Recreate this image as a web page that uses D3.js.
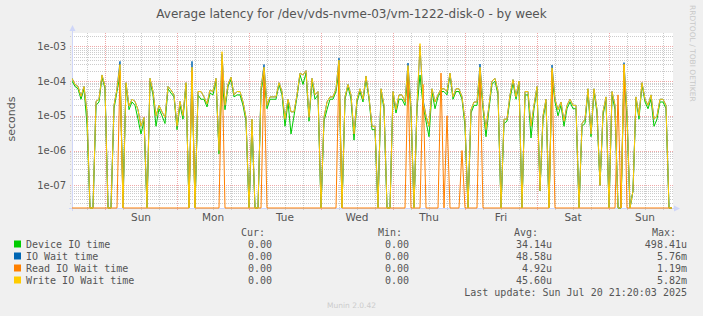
<!DOCTYPE html>
<html lang="en">
<head>
    <meta charset="utf-8" />
    <title>Average latency for /dev/vds-nvme-03/vm-1222-disk-0 - by week</title>
    <script src="https://d3js.org/d3.v7.min.js"></script>
    <style>
        body {
            margin: 0;
            padding: 0;
            background-color: #f0f0f0;
        }
        svg {
            display: block;
            font-family: "DejaVu Sans", sans-serif;
        }
        .mono {
            font-family: "DejaVu Sans Mono", monospace;
        }
    </style>
</head>
<body>
<svg id="chart"></svg>
<script>
    var w = 703;
    var h = 316;

    // hourly averages, first point Sat Jul 12 13:00, last Sun Jul 20 21:00 (seconds, 0 = idle)
    var deviceIO = [
        1e-4, 7e-5, 6e-5, 3e-5, 6e-5, 5.6e-6, 0, 0, 2e-5, 2.5e-5,
        1.3e-4, 6e-5, 0, 0, 1.6e-5, 5e-5, 1.5e-4, 4e-8, 8e-5, 1.5e-5,
        2.5e-5, 2e-5, 8e-6, 3e-6, 7e-6, 0, 1e-4, 4e-5, 5e-6, 1.6e-5,
        1e-5, 6e-6, 6e-5, 4.5e-5, 3.5e-5, 4e-6, 2e-5, 8e-6, 8e-5, 0,
        1.6e-4, 0, 4e-5, 3e-5, 3e-5, 1.8e-5, 4.5e-5, 4e-5, 1e-4, 8e-7,
        1e-4, 1.5e-5, 7e-5, 1.1e-4, 3.5e-5, 4e-5, 4e-5, 2e-5, 7e-6, 0,
        5e-6, 0, 0, 5e-5, 1.5e-4, 1.6e-5, 3e-5, 3e-5, 3e-5, 8e-5,
        4e-5, 5e-6, 2.5e-5, 3e-6, 1e-5, 3.5e-5, 1.5e-4, 8e-5, 1.7e-4, 7e-6,
        1e-4, 3e-5, 4e-5, 0, 7e-6, 1.5e-5, 3e-5, 3e-5, 5e-5, 2e-4,
        0, 3e-5, 7e-5, 3e-5, 2e-6, 2.5e-5, 5e-5, 2.5e-5, 1.2e-4, 3e-5,
        4e-6, 4e-6, 0, 5e-5, 1.6e-5, 0, 0, 4e-5, 1.2e-5, 3e-5,
        3e-5, 2e-5, 1.5e-4, 1.3e-5, 0, 1.6e-5, 1.5e-4, 2e-5, 7e-6, 2.5e-6,
        5e-5, 1.6e-5, 3.5e-5, 5e-5, 5e-5, 4e-5, 1.5e-4, 3e-5, 5e-5, 5e-5,
        3e-5, 5e-6, 0, 1.2e-5, 2e-5, 2e-5, 1.5e-4, 1.6e-5, 2.5e-6, 1.6e-5,
        8e-5, 1e-4, 4e-5, 0, 6e-6, 7e-6, 3e-5, 9e-5, 3e-5, 8e-5,
        0, 4e-5, 4e-5, 2.3e-6, 1.6e-5, 6e-5, 7e-8, 8e-6, 2.5e-5, 0,
        1.3e-4, 2.5e-5, 1e-5, 2e-5, 5e-6, 1.6e-5, 2.5e-5, 1.6e-5, 1.6e-5, 0,
        5e-6, 6e-6, 5e-5, 2.5e-6, 5e-5, 1.2e-5, 1e-7, 1e-5, 3e-5, 0,
        4e-5, 1.5e-5, 0, 0, 1.5e-4, 8e-6, 0, 7e-8, 3e-5, 8e-6,
        8e-5, 2.5e-5, 1.6e-5, 3e-5, 5e-6, 8e-6, 2.5e-5, 2.5e-5, 1.6e-5, 0,
        0
    ];
    var ioWait = [
        1.2e-4, 8e-5, 7e-5, 3.6e-5, 7e-5, 1.3e-5, 0, 0, 2.6e-5, 3e-5,
        1.5e-4, 7e-5, 0, 0, 2e-5, 6e-5, 3.7e-4, 0, 9e-5, 1.9e-5,
        3e-5, 2.6e-5, 1.5e-5, 5e-6, 9e-6, 0, 1.2e-4, 5e-5, 1e-5, 2e-5,
        1.3e-5, 9e-6, 7e-5, 5.5e-5, 4e-5, 5e-6, 2.6e-5, 1e-5, 9e-5, 0,
        3.7e-4, 0, 5e-5, 5e-5, 3.5e-5, 2.2e-5, 5.5e-5, 5e-5, 1.2e-4, 1e-6,
        6e-4, 2e-5, 8e-5, 1.3e-4, 4e-5, 5e-5, 5e-5, 2.5e-5, 9e-6, 0,
        8e-6, 0, 0, 6e-5, 3e-4, 2e-5, 3.5e-5, 3.5e-5, 3.5e-5, 9e-5,
        5e-5, 8e-6, 3e-5, 1.3e-5, 1.3e-5, 4e-5, 1.7e-4, 1.5e-4, 2e-4, 9e-6,
        1.2e-4, 4e-5, 5e-5, 0, 9e-6, 2.5e-5, 3.5e-5, 3.5e-5, 6e-5, 4.6e-4,
        0, 3.5e-5, 8e-5, 4e-5, 3e-6, 3e-5, 6e-5, 3e-5, 1.4e-4, 3.5e-5,
        5e-6, 5e-6, 0, 6e-5, 2e-5, 0, 0, 5e-5, 1.5e-5, 4e-5,
        4e-5, 2.5e-5, 3.3e-4, 1.7e-5, 0, 2e-5, 1e-3, 3e-5, 1e-5, 5e-6,
        6e-5, 2.5e-5, 4e-5, 6e-5, 6e-5, 5e-5, 1.7e-4, 3.5e-5, 6e-5, 6e-5,
        3.5e-5, 7e-6, 0, 1.5e-5, 2.5e-5, 2.5e-5, 3.1e-4, 2e-5, 4e-6, 2e-5,
        1e-4, 1.2e-4, 5e-5, 0, 8e-6, 8e-6, 4e-5, 1.1e-4, 3.5e-5, 1e-4,
        0, 5e-5, 5e-5, 5e-6, 2e-5, 7e-5, 7e-8, 1e-5, 3e-5, 0,
        2.9e-4, 3e-5, 1.5e-5, 2.5e-5, 7e-6, 2e-5, 3e-5, 2e-5, 2e-5, 0,
        6e-6, 8e-6, 6e-5, 3e-6, 6e-5, 1.5e-5, 1e-7, 1.3e-5, 3.5e-5, 0,
        5e-5, 2e-5, 0, 0, 3.4e-4, 1.3e-5, 0, 7e-8, 3.5e-5, 1e-5,
        9e-5, 3e-5, 2e-5, 4e-5, 8e-6, 1e-5, 3e-5, 3e-5, 2e-5, 0,
        0
    ];
    var readWait = [
        0, 0, 0, 0, 0, 0, 0, 0, 0, 0,
        0, 0, 0, 0, 0, 0, 2e-4, 0, 0, 0,
        0, 0, 0, 0, 0, 0, 0, 0, 0, 0,
        0, 0, 0, 0, 0, 0, 0, 0, 0, 0,
        2e-4, 0, 0, 0, 0, 0, 0, 0, 0, 0,
        4e-4, 0, 0, 0, 0, 0, 0, 0, 0, 0,
        0, 0, 0, 0, 2e-4, 0, 0, 0, 0, 0,
        0, 0, 0, 0, 0, 0, 0, 0, 0, 0,
        0, 0, 0, 0, 0, 0, 0, 0, 0, 3e-4,
        0, 0, 0, 0, 0, 0, 0, 0, 0, 0,
        0, 0, 0, 0, 0, 0, 0, 0, 0, 0,
        0, 0, 1.6e-4, 0, 0, 0, 0, 8e-5, 0, 0,
        0, 0, 0, 1.7e-4, 0, 1e-5, 0, 0, 0, 0,
        1e-6, 0, 0, 0, 0, 0, 2e-4, 0, 0, 0,
        0, 0, 0, 0, 0, 0, 0, 0, 0, 0,
        0, 0, 0, 0, 0, 0, 0, 0, 0, 0,
        2e-4, 0, 0, 0, 0, 0, 0, 0, 0, 0,
        0, 0, 0, 0, 0, 0, 0, 0, 0, 0,
        0, 0, 4e-5, 0, 3e-4, 0, 0, 0, 0, 0,
        0, 0, 0, 0, 0, 0, 0, 0, 0, 0,
        0
    ];
    var writeWait = [
        1.2e-4, 8e-5, 7e-5, 3.6e-5, 7e-5, 1.3e-5, 0, 0, 2.6e-5, 3e-5,
        1.5e-4, 7e-5, 0, 0, 2e-5, 6e-5, 3e-4, 0, 9e-5, 1.9e-5,
        3e-5, 2.6e-5, 1.5e-5, 5e-6, 9e-6, 0, 1.2e-4, 5e-5, 1e-5, 2e-5,
        1.3e-5, 9e-6, 7e-5, 5.5e-5, 4e-5, 5e-6, 2.6e-5, 1e-5, 9e-5, 0,
        2.5e-4, 0, 5e-5, 5e-5, 3.5e-5, 2.2e-5, 5.5e-5, 5e-5, 1.2e-4, 1e-6,
        7e-4, 2e-5, 8e-5, 1.3e-4, 4e-5, 5e-5, 5e-5, 2.5e-5, 9e-6, 0,
        8e-6, 0, 0, 6e-5, 2.5e-4, 2e-5, 3.5e-5, 3.5e-5, 3.5e-5, 9e-5,
        5e-5, 8e-6, 3e-5, 1.3e-5, 1.3e-5, 4e-5, 1.7e-4, 1.5e-4, 2e-4, 9e-6,
        1.2e-4, 4e-5, 5e-5, 0, 9e-6, 2.5e-5, 3.5e-5, 3.5e-5, 6e-5, 4e-4,
        0, 3.5e-5, 8e-5, 4e-5, 3e-6, 3e-5, 6e-5, 3e-5, 1.4e-4, 3.5e-5,
        5e-6, 5e-6, 0, 6e-5, 2e-5, 0, 0, 5e-5, 1.5e-5, 4e-5,
        4e-5, 2.5e-5, 2.8e-4, 1.7e-5, 0, 2e-5, 1.2e-3, 2.5e-5, 1e-5, 5e-6,
        6e-5, 2.5e-5, 4e-5, 6e-5, 6e-5, 5e-5, 1.7e-4, 3.5e-5, 6e-5, 6e-5,
        3.5e-5, 7e-6, 0, 1.5e-5, 2.5e-5, 2.5e-5, 2.5e-4, 2e-5, 4e-6, 2e-5,
        1e-4, 1.2e-4, 5e-5, 0, 8e-6, 8e-6, 4e-5, 1.1e-4, 3.5e-5, 1e-4,
        0, 5e-5, 5e-5, 5e-6, 2e-5, 7e-5, 7e-8, 1e-5, 3e-5, 0,
        2.4e-4, 3e-5, 1.5e-5, 2.5e-5, 7e-6, 2e-5, 3e-5, 2e-5, 2e-5, 0,
        6e-6, 8e-6, 6e-5, 3e-6, 6e-5, 1.5e-5, 1e-7, 1.3e-5, 3.5e-5, 0,
        5e-5, 2e-5, 0, 0, 3e-4, 1.3e-5, 0, 7e-8, 3.5e-5, 1e-5,
        9e-5, 3e-5, 2e-5, 4e-5, 8e-6, 1e-5, 3e-5, 3e-5, 2e-5, 0,
        0
    ];

    var seriesNames = ["Device IO time", "IO Wait time", "Read IO Wait time", "Write IO Wait time"];
    var curValues = ["0.00", "0.00", "0.00", "0.00"];
    var minValues = ["0.00", "0.00", "0.00", "0.00"];
    var avgValues = ["34.14u", "48.58u", "4.92u", "45.60u"];
    var maxValues = ["498.41u", "5.76m", "1.19m", "5.82m"];
    var yTickValues = [1e-3, 1e-4, 1e-5, 1e-6, 1e-7];
    var yTickLabels = ["1e-03", "1e-04", "1e-05", "1e-06", "1e-07"];

    var colors = ["#00cc00", "#0066b3", "#ff8000", "#ffcc00"];
    var startTime = Date.UTC(2025, 6, 12, 13, 0);
    var endTime = Date.UTC(2025, 6, 20, 21, 20);

    // plot box
    var plotLeft = 72, plotRight = 673, plotTop = 33, plotBottom = 208;

    var svg = d3.select("#chart")
        .attr("width", w)
        .attr("height", h);

    svg.append("rect")
        .attr("width", w)
        .attr("height", h)
        .attr("fill", "#f0f0f0");

    var xScale = d3.scaleUtc()
        .domain([new Date(startTime), new Date(endTime)])
        .range([plotLeft, plotRight]);

    var yScale = d3.scaleLog()
        .domain([2.22e-8, 2.42e-3])
        .range([plotBottom, plotTop])
        .clamp(true);

    svg.append("rect")
        .attr("x", plotLeft)
        .attr("y", plotTop)
        .attr("width", plotRight - plotLeft)
        .attr("height", plotBottom - plotTop)
        .attr("fill", "#ffffff");

    // horizontal grid: minor at 2..9, major at each decade
    var gridY = [];
    for (var e = -8; e <= -3; e++) {
        for (var k = 1; k <= 9; k++) {
            var v = k * Math.pow(10, e);
            if (v >= yScale.domain()[0] && v <= yScale.domain()[1]) gridY.push({v: v, major: k === 1});
        }
    }
    var vTimes = d3.utcHour.every(6).range(new Date(startTime), new Date(endTime));

    function hGrid(data, color) {
        svg.append("g").selectAll("line")
            .data(data)
            .enter().append("line")
            .attr("x1", plotLeft - 2)
            .attr("x2", plotRight)
            .attr("y1", function(d) { return Math.round(yScale(d.v)) + 0.5; })
            .attr("y2", function(d) { return Math.round(yScale(d.v)) + 0.5; })
            .attr("stroke", color)
            .attr("stroke-dasharray", "1,1");
    }
    function vGrid(data, color) {
        svg.append("g").selectAll("line")
            .data(data)
            .enter().append("line")
            .attr("x1", function(d) { return Math.round(xScale(d)) + 0.5; })
            .attr("x2", function(d) { return Math.round(xScale(d)) + 0.5; })
            .attr("y1", plotTop)
            .attr("y2", plotBottom + 3)
            .attr("stroke", color)
            .attr("stroke-dasharray", "1,1");
    }
    hGrid(gridY.filter(function(d) { return !d.major; }), "#cccccc");
    vGrid(vTimes.filter(function(d) { return d.getUTCHours() !== 0; }), "#cccccc");
    hGrid(gridY.filter(function(d) { return d.major; }), "#f0a8a8");
    vGrid(vTimes.filter(function(d) { return d.getUTCHours() === 0; }), "#f0a8a8");

    // axes with arrows
    svg.append("line")
        .attr("x1", plotLeft + 0.5).attr("x2", plotLeft + 0.5)
        .attr("y1", plotTop - 4).attr("y2", plotBottom + 3)
        .attr("stroke", "#cfd6f8");
    svg.append("line")
        .attr("x1", plotLeft - 3).attr("x2", plotRight + 3)
        .attr("y1", plotBottom + 0.5).attr("y2", plotBottom + 0.5)
        .attr("stroke", "#cfd6f8");
    svg.append("path")
        .attr("d", "M" + (plotLeft - 2.5) + "," + (plotTop - 2) + "L" + (plotLeft + 0.5) + "," + (plotTop - 8) + "L" + (plotLeft + 3.5) + "," + (plotTop - 2) + "Z")
        .attr("fill", "#cfd6f8");
    svg.append("path")
        .attr("d", "M" + (plotRight + 1) + "," + (plotBottom - 2.5) + "L" + (plotRight + 7) + "," + (plotBottom + 0.5) + "L" + (plotRight + 1) + "," + (plotBottom + 3.5) + "Z")
        .attr("fill", "#cfd6f8");

    // series lines
    var times = writeWait.map(function(d, i) { return new Date(startTime + i * 3600e3); });
    var allSeries = [deviceIO, ioWait, readWait, writeWait];

    var line = d3.line()
        .x(function(d, i) { return xScale(times[i]); })
        .y(function(d) { return yScale(d > 0 ? d : yScale.domain()[0]); });

    svg.append("clipPath").attr("id", "plotClip")
        .append("rect")
        .attr("x", plotLeft).attr("y", plotTop - 1)
        .attr("width", plotRight - plotLeft + 1).attr("height", plotBottom - plotTop + 2);

    svg.append("g")
        .attr("clip-path", "url(#plotClip)")
        .selectAll("path")
        .data(allSeries)
        .enter().append("path")
        .attr("d", line)
        .attr("fill", "none")
        .attr("stroke", function(d, i) { return colors[i]; })
        .attr("stroke-width", 1);

    // y tick labels
    svg.append("g").selectAll("text")
        .data(yTickValues)
        .enter().append("text")
        .attr("x", 66)
        .attr("y", function(d) { return yScale(d) + 3.5; })
        .attr("text-anchor", "end")
        .attr("font-size", "10px")
        .attr("fill", "#555")
        .text(function(d, i) { return yTickLabels[i]; });

    // x tick labels: day names at noon
    var noons = d3.utcDay.range(new Date(startTime), new Date(endTime))
        .map(function(d) { return d3.utcHour.offset(d, 12); })
        .filter(function(d) { return d < new Date(endTime); });
    svg.append("g").selectAll("text")
        .data(noons)
        .enter().append("text")
        .attr("x", function(d) { return xScale(d); })
        .attr("y", 221)
        .attr("text-anchor", "middle")
        .attr("font-size", "10.5px")
        .attr("fill", "#555")
        .text(d3.utcFormat("%a"));

    // title and labels
    svg.append("text")
        .attr("x", w / 2)
        .attr("y", 18)
        .attr("text-anchor", "middle")
        .attr("font-size", "12px")
        .attr("fill", "#555")
        .text("Average latency for /dev/vds-nvme-03/vm-1222-disk-0 - by week");

    svg.append("text")
        .attr("transform", "translate(15,119) rotate(-90)")
        .attr("text-anchor", "middle")
        .attr("font-size", "11px")
        .attr("fill", "#555")
        .text("seconds");

    svg.append("text")
        .attr("transform", "translate(690,5) rotate(90)")
        .attr("text-anchor", "start")
        .attr("font-size", "7.5px")
        .attr("fill", "#c8c8c8")
        .text("RRDTOOL / TOBI OETIKER");

    // legend
    var legend = svg.append("g").attr("class", "mono").attr("font-size", "10px").attr("fill", "#555");
    var headers = [["Cur:", 265], ["Min:", 402], ["Avg:", 538], ["Max:", 676]];
    headers.forEach(function(hd) {
        legend.append("text").attr("x", hd[1]).attr("y", 235.5)
            .attr("text-anchor", "end").text(hd[0]);
    });

    var rows = legend.selectAll("g.row")
        .data(seriesNames)
        .enter().append("g")
        .attr("class", "row")
        .attr("transform", function(d, i) { return "translate(0," + (248 + i * 12) + ")"; });

    rows.append("rect")
        .attr("x", 14).attr("y", -7.5)
        .attr("width", 7).attr("height", 7)
        .attr("fill", function(d, i) { return colors[i]; });
    rows.append("text").attr("x", 26).text(function(d) { return d; });
    rows.append("text").attr("x", 272).attr("text-anchor", "end").text(function(d, i) { return curValues[i]; });
    rows.append("text").attr("x", 409).attr("text-anchor", "end").text(function(d, i) { return minValues[i]; });
    rows.append("text").attr("x", 552).attr("text-anchor", "end").text(function(d, i) { return avgValues[i]; });
    rows.append("text").attr("x", 687).attr("text-anchor", "end").text(function(d, i) { return maxValues[i]; });

    legend.append("text")
        .attr("x", 687).attr("y", 296)
        .attr("text-anchor", "end")
        .text("Last update: Sun Jul 20 21:20:03 2025");

    svg.append("text")
        .attr("x", w / 2)
        .attr("y", 308)
        .attr("text-anchor", "middle")
        .attr("font-size", "7.5px")
        .attr("fill", "#cccccc")
        .text("Munin 2.0.42");
</script>
</body>
</html>
